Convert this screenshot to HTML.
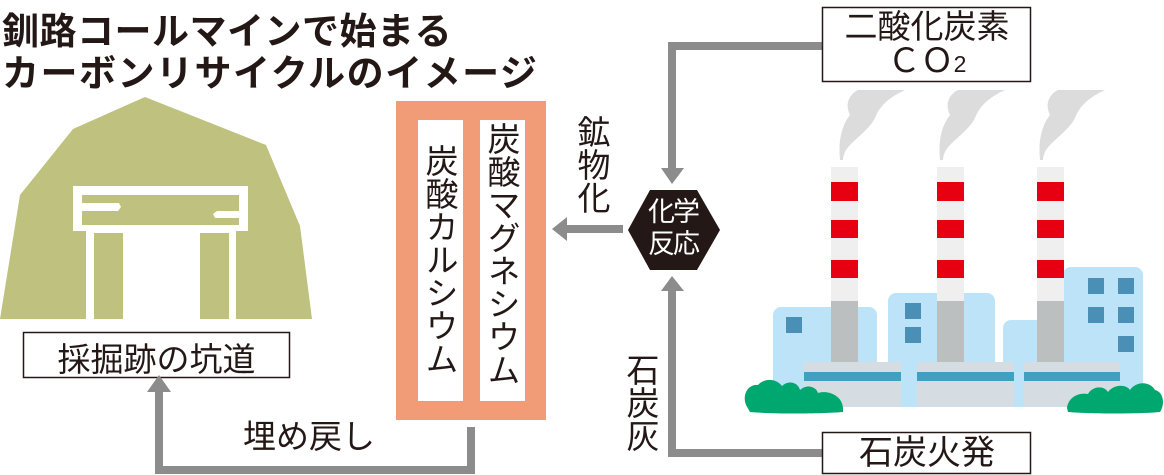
<!DOCTYPE html>
<html><head><meta charset="utf-8"><style>
body{margin:0;width:1164px;height:475px;overflow:hidden;background:#fff;font-family:"Liberation Sans","Noto Sans CJK JP",sans-serif;color:#231815}
svg{position:absolute;left:0;top:0}
.t{position:absolute;white-space:nowrap}
.v{writing-mode:vertical-rl;position:absolute;line-height:1}
</style></head><body>
<svg width="1164" height="475" viewBox="0 0 1164 475">
<polygon points="0,319 20,195 73,129 145,97 266,145 300,226 312,319" fill="#bfc17e"/>
<rect x="73" y="186" width="175" height="45" fill="#fff"/>
<rect x="82" y="195" width="157" height="30" fill="#bfc17e"/>
<path d="M82,203 H119 L121,207 L118,211 H82 Z" fill="#fff"/>
<path d="M239,211 H217 L213,214 L215,218 H239 Z" fill="#fff"/>
<rect x="86" y="231" width="150" height="88" fill="#fff"/>
<rect x="94" y="233" width="29" height="86" fill="#bfc17e"/>
<rect x="200" y="233" width="29" height="86" fill="#bfc17e"/>
<rect x="23.5" y="332.5" width="266" height="45" fill="#fff" stroke="#231815" stroke-width="1.5"/>
<rect x="396" y="101" width="150" height="319" fill="#f19b77"/>
<rect x="418" y="120" width="45" height="281" fill="#fff"/>
<rect x="480" y="120" width="45" height="281" fill="#fff"/>
<path d="M471,427 V470 H159 V392" fill="none" stroke="#8c8c8c" stroke-width="8"/>
<polygon points="147,392 171,392 159,375" fill="#8c8c8c"/>
<path d="M822,46 H672 V170" fill="none" stroke="#8c8c8c" stroke-width="8"/>
<polygon points="661,168 684,168 672,184" fill="#8c8c8c"/>
<path d="M623,229 H566" fill="none" stroke="#8c8c8c" stroke-width="8"/>
<polygon points="567,217 567,241 552,229" fill="#8c8c8c"/>
<path d="M822,453 H672 V290" fill="none" stroke="#8c8c8c" stroke-width="8"/>
<polygon points="661,291 684,291 672,276" fill="#8c8c8c"/>
<polygon points="628,230 650,190 697,190 720,230 697,270 650,270" fill="#231815"/>
<rect x="822.5" y="7.5" width="208" height="74" fill="#fff" stroke="#231815" stroke-width="1.5"/>
<rect x="822.5" y="432.5" width="208" height="41" fill="#fff" stroke="#231815" stroke-width="1.5"/>
<g fill="#dcdcdc">
<path d="M840,160 C838,140 842,125 850,115 C845,105 848,95 858,90 L905,90 C890,97 880,105 875,118 C870,128 860,135 850,145 C845,150 843,156 843,160 Z"/>
<path d="M940,160 C938,140 942,125 950,115 C945,105 948,95 958,90 L1005,90 C990,97 980,105 975,118 C970,128 960,135 950,145 C945,150 943,156 943,160 Z"/>
<path d="M1040,160 C1038,140 1042,125 1050,115 C1045,105 1048,95 1058,90 L1105,90 C1090,97 1080,105 1075,118 C1070,128 1060,135 1050,145 C1045,150 1043,156 1043,160 Z"/>
</g>
<g fill="#bde3f8">
<rect x="773" y="307" width="104" height="100" rx="8"/>
<rect x="888" y="293" width="107" height="114" rx="8"/>
<rect x="1063" y="267" width="80" height="140" rx="8"/>
<rect x="1003" y="320" width="70" height="87" rx="8"/>
</g>
<g fill="#4a8fb5">
<rect x="786" y="317" width="16" height="16"/>
<rect x="905" y="303" width="16" height="16"/><rect x="905" y="327" width="16" height="16"/>
<rect x="1088" y="278" width="16" height="16"/><rect x="1118" y="278" width="16" height="16"/>
<rect x="1088" y="307" width="16" height="16"/><rect x="1118" y="307" width="16" height="16"/>
<rect x="1118" y="336" width="16" height="16"/>
</g>
<g>
<rect x="831" y="167" width="27" height="134" fill="#efefef"/><rect x="831" y="301" width="27" height="61" fill="#bbbfc0"/>
<rect x="937" y="167" width="27" height="134" fill="#efefef"/><rect x="937" y="301" width="27" height="61" fill="#bbbfc0"/>
<rect x="1037" y="167" width="27" height="134" fill="#efefef"/><rect x="1037" y="301" width="27" height="61" fill="#bbbfc0"/>
</g>
<g fill="#e60012">
<rect x="831" y="182" width="27" height="19"/><rect x="831" y="220" width="27" height="18"/><rect x="831" y="260" width="27" height="18"/>
<rect x="937" y="182" width="27" height="19"/><rect x="937" y="220" width="27" height="18"/><rect x="937" y="260" width="27" height="18"/>
<rect x="1037" y="182" width="27" height="19"/><rect x="1037" y="220" width="27" height="18"/><rect x="1037" y="260" width="27" height="18"/>
</g>
<g fill="#d5dde2">
<rect x="804" y="362" width="97" height="45"/><rect x="917" y="362" width="97" height="45"/><rect x="1024" y="362" width="96" height="45"/>
</g>
<g fill="#3fa0c0">
<rect x="804" y="372" width="97" height="9"/><rect x="917" y="372" width="97" height="9"/><rect x="1024" y="372" width="96" height="9"/>
</g>
<g fill="#00a870">
<path d="M746,405 C742,395 748,384 758,385 C764,378 776,378 782,386 C788,380 798,382 800,390 C806,384 816,386 818,393 C826,390 842,394 843,408 L843,412 C820,414 770,414 750,412 Z"/>
<path d="M1067,408 C1068,398 1078,392 1088,394 C1092,386 1104,385 1108,392 C1114,384 1126,384 1130,390 C1136,381 1150,381 1155,390 C1164,392 1165,405 1160,412 C1140,414 1090,414 1068,412 Z"/>
</g>
</svg>
<div class="t" style="left:2px;top:1px;font-size:37px;font-weight:bold;letter-spacing:0.5px">釧路コールマインで始まる</div>
<div class="t" style="left:2px;top:43px;font-size:37px;font-weight:bold;letter-spacing:1.5px">カーボンリサイクルのイメージ</div>
<div class="t" style="left:23px;top:333px;width:267px;text-align:center;font-size:33px">採掘跡の坑道</div>
<div class="t" style="left:243px;top:410px;font-size:33px">埋め戻し</div>
<div class="v" style="left:423px;top:144px;font-size:33px">炭酸カルシウム</div>
<div class="v" style="left:485px;top:122px;font-size:33px">炭酸マグネシウム</div>
<div class="v" style="left:575px;top:115px;font-size:33px">鉱物化</div>
<div class="v" style="left:624px;top:353px;font-size:33px">石炭灰</div>
<div class="t" style="left:648px;top:196px;font-size:27px;line-height:32px;color:#fff;letter-spacing:-2px">化学<br>反応</div>
<div class="t" style="left:823px;top:10px;width:208px;text-align:center;font-size:33px;line-height:34px">二酸化炭素<br>ＣＯ<span style="font-size:23px">2</span></div>
<div class="t" style="left:823px;top:434px;width:208px;text-align:center;font-size:34px;line-height:38px">石炭火発</div>
</body></html>
